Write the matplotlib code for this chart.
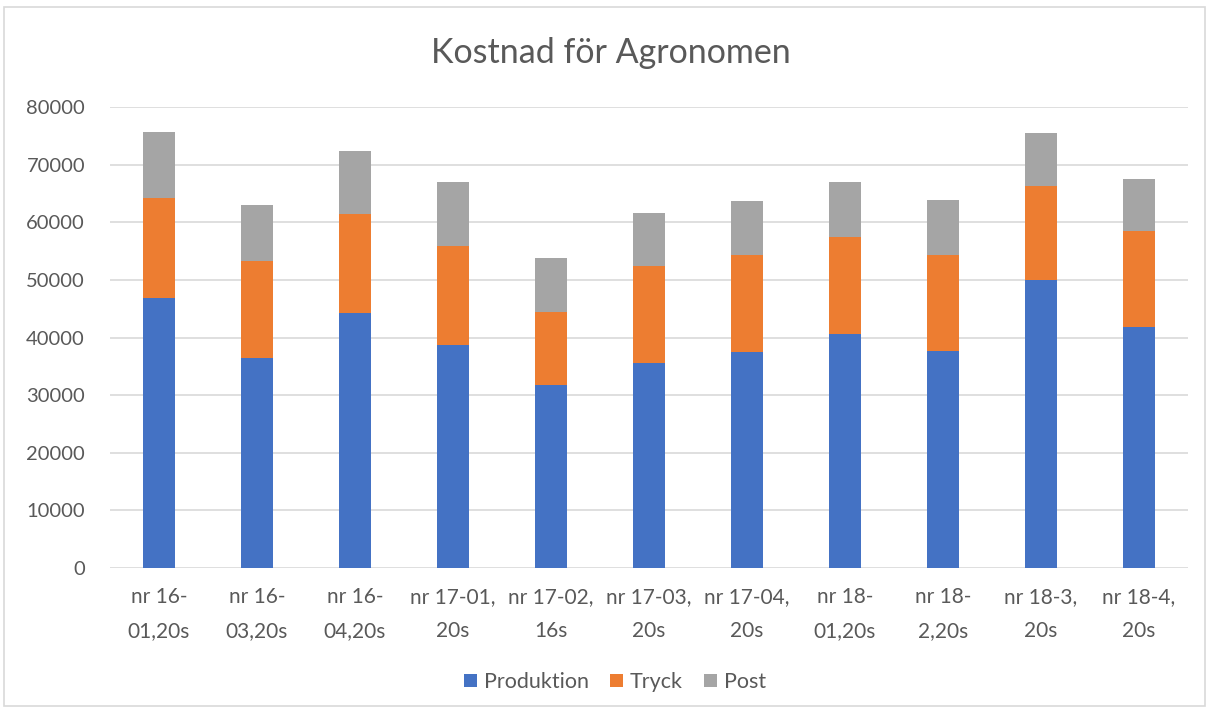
import numpy as np
import matplotlib.pyplot as plt
from matplotlib.patches import Rectangle

# values (cumulative tops converted to segments)
categories = ["nr 16-\n01,20s", "nr 16-\n03,20s", "nr 16-\n04,20s", "nr 17-01,\n20s",
              "nr 17-02,\n16s", "nr 17-03,\n20s", "nr 17-04,\n20s", "nr 18-\n01,20s",
              "nr 18-\n2,20s", "nr 18-3,\n20s", "nr 18-4,\n20s"]
produktion = [46820, 36410, 44270, 38780, 31720, 35590, 37570, 40630, 37620, 50000, 41840]
tryck = [17360, 16780, 17140, 17120, 12670, 16840, 16770, 16840, 16720, 16320, 16610]
post = [11410, 9780, 10930, 11010, 9430, 9200, 9270, 9540, 9440, 9200, 9080]

W, H = 1213, 715
fig = plt.figure(figsize=(W / 100, H / 100), dpi=100)
plt.rcParams['font.family'] = ['Lato', 'DejaVu Sans']
txt = '#595959'

# chart border
fig.patches.append(Rectangle((4 / W, 1 - 706 / H), 1201 / W, 699 / H, transform=fig.transFigure,
                             fill=False, edgecolor='#D9D9D9', lw=1.2))

ax = fig.add_axes([110 / W, (H - 568) / H, 1078 / W, 461 / H])
x = np.arange(len(categories))
w = 0.32
prod = np.array(produktion)
tr = np.array(tryck)
po = np.array(post)
ax.bar(x, prod, w, color='#4472C4', label='Produktion', zorder=3)
ax.bar(x, tr, w, bottom=prod, color='#ED7D31', label='Tryck', zorder=3)
ax.bar(x, po, w, bottom=prod + tr, color='#A5A5A5', label='Post', zorder=3)

ax.set_xlim(-0.5, len(categories) - 0.5)
ax.set_ylim(0, 80000)
ax.set_yticks(np.arange(0, 80001, 10000))
ax.grid(axis='y', color='#D9D9D9', lw=1.2, zorder=0)
for s in ax.spines.values():
    s.set_visible(False)
ax.tick_params(length=0, labelsize=15, labelcolor=txt)
ax.tick_params(axis='y', pad=18, labelsize=14.5)
ax.tick_params(axis='x', pad=14)
ax.set_xticks(x)
ax.set_xticklabels(categories, linespacing=1.85)

fig.text(611 / W, 1 - 53 / H, "Kostnad för Agronomen", ha='center', va='center',
         fontsize=24.5, color=txt)

fig.legend(loc='center', bbox_to_anchor=(615 / W, 1 - 682 / H), ncol=3, frameon=False,
           fontsize=15.5, labelcolor=txt, handlelength=0.6, handleheight=0.6,
           handletextpad=0.3, columnspacing=1.0)

fig.savefig('out.png', dpi=100)
